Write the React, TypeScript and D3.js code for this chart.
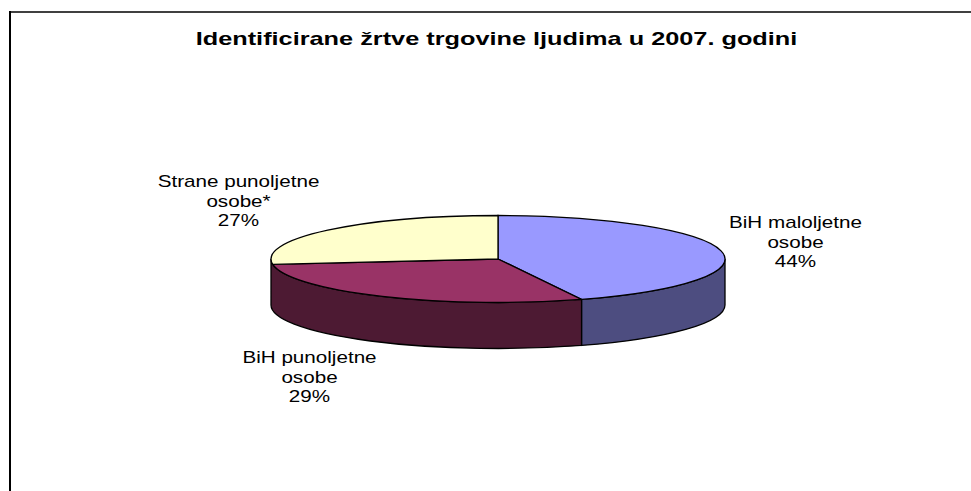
import React from "react";
import * as d3 from "d3";

const categories = ["BiH maloljetne osobe", "BiH punoljetne osobe", "Strane punoljetne osobe*"];
const values = [44, 29, 27];
const topColors = ["#9999ff", "#993366", "#ffffcc"];
const sideColors = ["#4d4d80", "#4d1a33"];
const labelLines = [
  ["BiH maloljetne", "osobe", "44%"],
  ["BiH punoljetne", "osobe", "29%"],
  ["Strane punoljetne", "osobe*", "27%"],
];
const labelPos = [[795.5, 228], [309.5, 363], [238.5, 187]];
const title = "Identificirane žrtve trgovine ljudima u 2007. godini";

const cx = 498, cy = 259, rx = 227, ry = 43.5, depth = 46;
const px = d3.scaleLinear().domain([-1, 1]).range([cx - rx, cx + rx]);
const py = d3.scaleLinear().domain([-1, 1]).range([cy - ry, cy + ry]);
const pt = (a: number, dy = 0): [number, number] => [px(Math.sin(a)), py(-Math.cos(a)) + dy];

const arcs = d3.pie<number>().sort(null)(values);
const f = (n: number) => n.toFixed(2);

function topPath(a0: number, a1: number) {
  const [x0, y0] = pt(a0);
  const [x1, y1] = pt(a1);
  const large = a1 - a0 > Math.PI ? 1 : 0;
  return `M${cx},${cy}L${f(x0)},${f(y0)}A${rx},${ry} 0 ${large} 1 ${f(x1)},${f(y1)}Z`;
}
function sidePath(a0: number, a1: number) {
  const [x0, y0] = pt(a0);
  const [x1, y1] = pt(a1);
  const [x2, y2] = pt(a1, depth);
  const [x3, y3] = pt(a0, depth);
  return `M${f(x0)},${f(y0)}A${rx},${ry} 0 0 1 ${f(x1)},${f(y1)}L${f(x2)},${f(y2)}A${rx},${ry} 0 0 0 ${f(x3)},${f(y3)}Z`;
}

export default function App() {
  const font = "'Liberation Sans', Arial, sans-serif";
  return (
    <svg width={971} height={491} style={{ position: "absolute", left: 0, top: 0, background: "#fff" }} fontFamily={font}>
      <line x1={10} y1={11} x2={10} y2={491} stroke="#000" strokeWidth={2} />
      <line x1={9} y1={12} x2={971} y2={12} stroke="#000" strokeWidth={1.6} />
      <text transform="translate(496.5,45) scale(1.43,1)" textAnchor="middle" fontSize={17.7} fontWeight="bold" fill="#000">{title}</text>
      <path d={sidePath(Math.PI / 2, arcs[0].endAngle)} fill={sideColors[0]} stroke="#000" strokeWidth={1.3} />
      <path d={sidePath(arcs[1].startAngle, Math.PI * 1.5)} fill={sideColors[1]} stroke="#000" strokeWidth={1.3} />
      {arcs.map((a, i) => (
        <path key={categories[i]} d={topPath(a.startAngle, a.endAngle)} fill={topColors[i]} stroke="#000" strokeWidth={1.3} />
      ))}
      {labelLines.map((lines, i) => (
        <text key={i} transform={`translate(${labelPos[i][0]},${labelPos[i][1]}) scale(1.29,1)`} textAnchor="middle" fontSize={16} fill="#000">
          {lines.map((l, j) => (
            <tspan key={j} x={0} y={j * 19.7}>{l}</tspan>
          ))}
        </text>
      ))}
    </svg>
  );
}
